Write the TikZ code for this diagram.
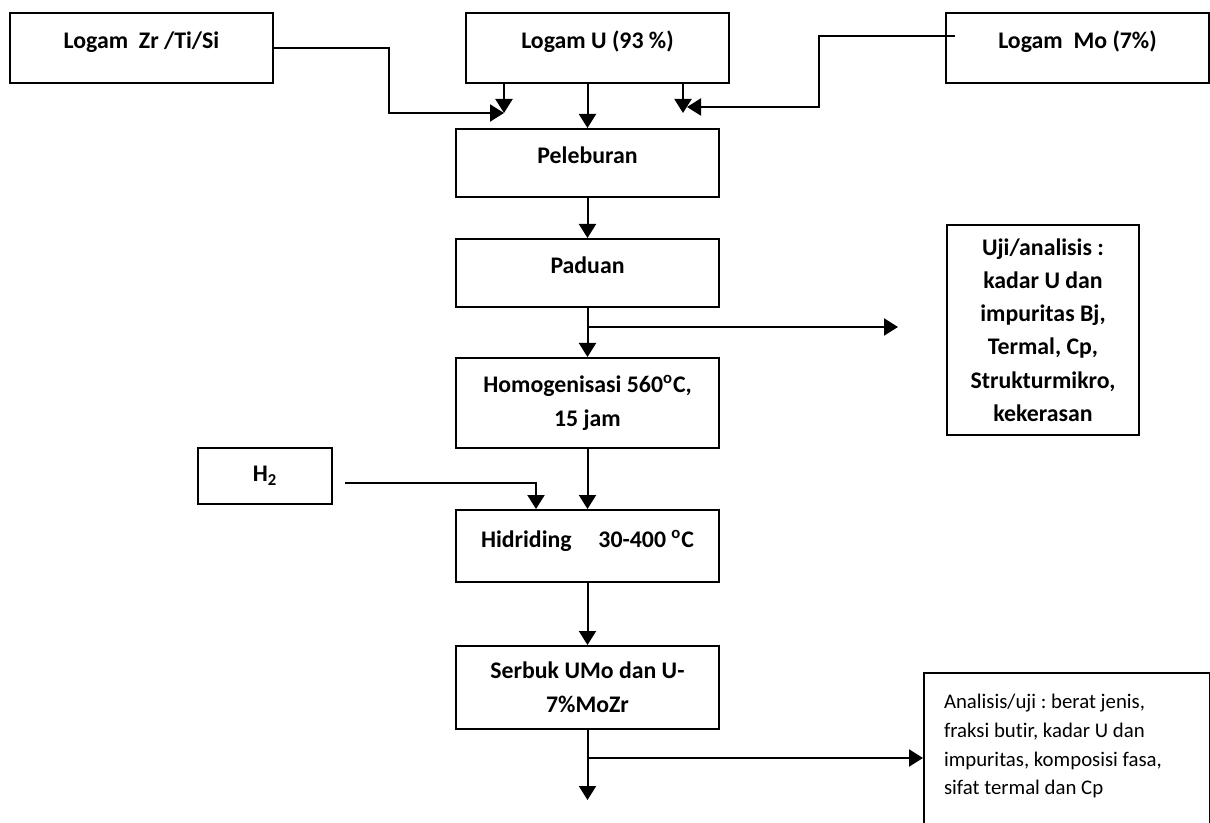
\documentclass[tikz,border=0pt]{standalone}
\usepackage{fontspec}
\setmainfont{Carlito}[Ligatures=NoCommon]
\usetikzlibrary{arrows.meta, calc}
\tikzset{
    box/.style={rectangle, draw, line width=1pt, minimum width=131.5pt, align=center, font=\bfseries\fontsize{11.9}{17}\selectfont},
    onebox/.style={box, text height=8.5pt, text depth=7.5pt},
    notebox/.style={rectangle, draw, line width=1pt, anchor=north west, inner xsep=10pt, inner ysep=10.5pt},
    arrow/.style={-{Triangle[length=7pt,width=8.5pt]}, line width=1pt},
}
\frenchspacing

\begin{document}
\begin{tikzpicture}[x=0.5pt, y=-0.5pt]
    \clip (0,0) rectangle (1210,823);
    % bahan awal
    \node[onebox, minimum height=35pt] (zr) at (141.5,48) {Logam\ \ Zr /Ti/Si};
    \node[onebox, minimum height=35pt] (u) at (597.5,48) {Logam U (93 \%)};
    \node[onebox, minimum height=35pt] (mo) at (1077.5,48) {Logam\ \ Mo (7\%)};
    % proses utama
    \node[onebox, minimum height=34pt] (pel) at (587.5,163) {Peleburan};
    \node[onebox, minimum height=34pt] (pad) at (587.5,273) {Paduan};
    \node[box, minimum height=45pt] (hom) at (587.5,403) {Homogenisasi 560\textsuperscript{o}C,\\15 jam};
    \node[onebox, minimum height=36pt] (hid) at (587.5,546) {Hidriding\hspace{0.9em} 30-400 \textsuperscript{o}C};
    \node[box, minimum height=41.5pt] (ser) at (587.5,687.5) {Serbuk UMo dan U-\\7\%MoZr};
    \node[box, minimum width=67pt, minimum height=28pt] (h2) at (265,476) {H\textsubscript{2}};
    % uji
    \node[box, minimum width=96pt, minimum height=105pt, font=\bfseries\fontsize{11.9}{16.6}\selectfont] (uji) at (1043,330)
        {Uji/analisis :\\kadar U dan\\impuritas Bj,\\Termal, Cp,\\Strukturmikro,\\kekerasan};
    \node[notebox] (ana) at (923,672) {\parbox[t][80pt][t]{123pt}{\fontsize{10.4}{14.4}\selectfont
        Analisis/uji : berat jenis,\\fraksi butir, kadar U dan\\impuritas, komposisi fasa,\\sifat termal dan Cp}};

    \coordinate (tl) at (504,113);
    \coordinate (tr) at (683,113);
    \coordinate (mostart) at (955,36);
    \coordinate (moend) at (687,107);
    \coordinate (hstart) at (345,483);
    \coordinate (ujiend) at (898,327);
    \coordinate (serbr) at (587.5,758);
    \coordinate (serend) at (587.5,800);

    % masukan ke peleburan
    \foreach \c in {tl,tr} \draw[arrow] (u.south -| \c) -- (\c);
    \draw[arrow] (pel.north |- u.south) -- (pel.north);
    \draw[arrow] (zr.east) -| (389,113) -- (tl);
    \draw[arrow] (mostart) -| (819,107) -- (moend);

    \foreach \a/\b in {pel/pad, pad/hom, hom/hid, hid/ser} \draw[arrow] (\a) -- (\b);
    \draw[arrow] (pad.south |- ujiend) -- (ujiend);
    \draw[arrow] (hstart) -| ([xshift=-25.75pt]hid.north);
    \draw[arrow] (ser) -- (serend);
    \draw[arrow] (serbr) -- (ana.west |- serbr);
\end{tikzpicture}
\end{document}
